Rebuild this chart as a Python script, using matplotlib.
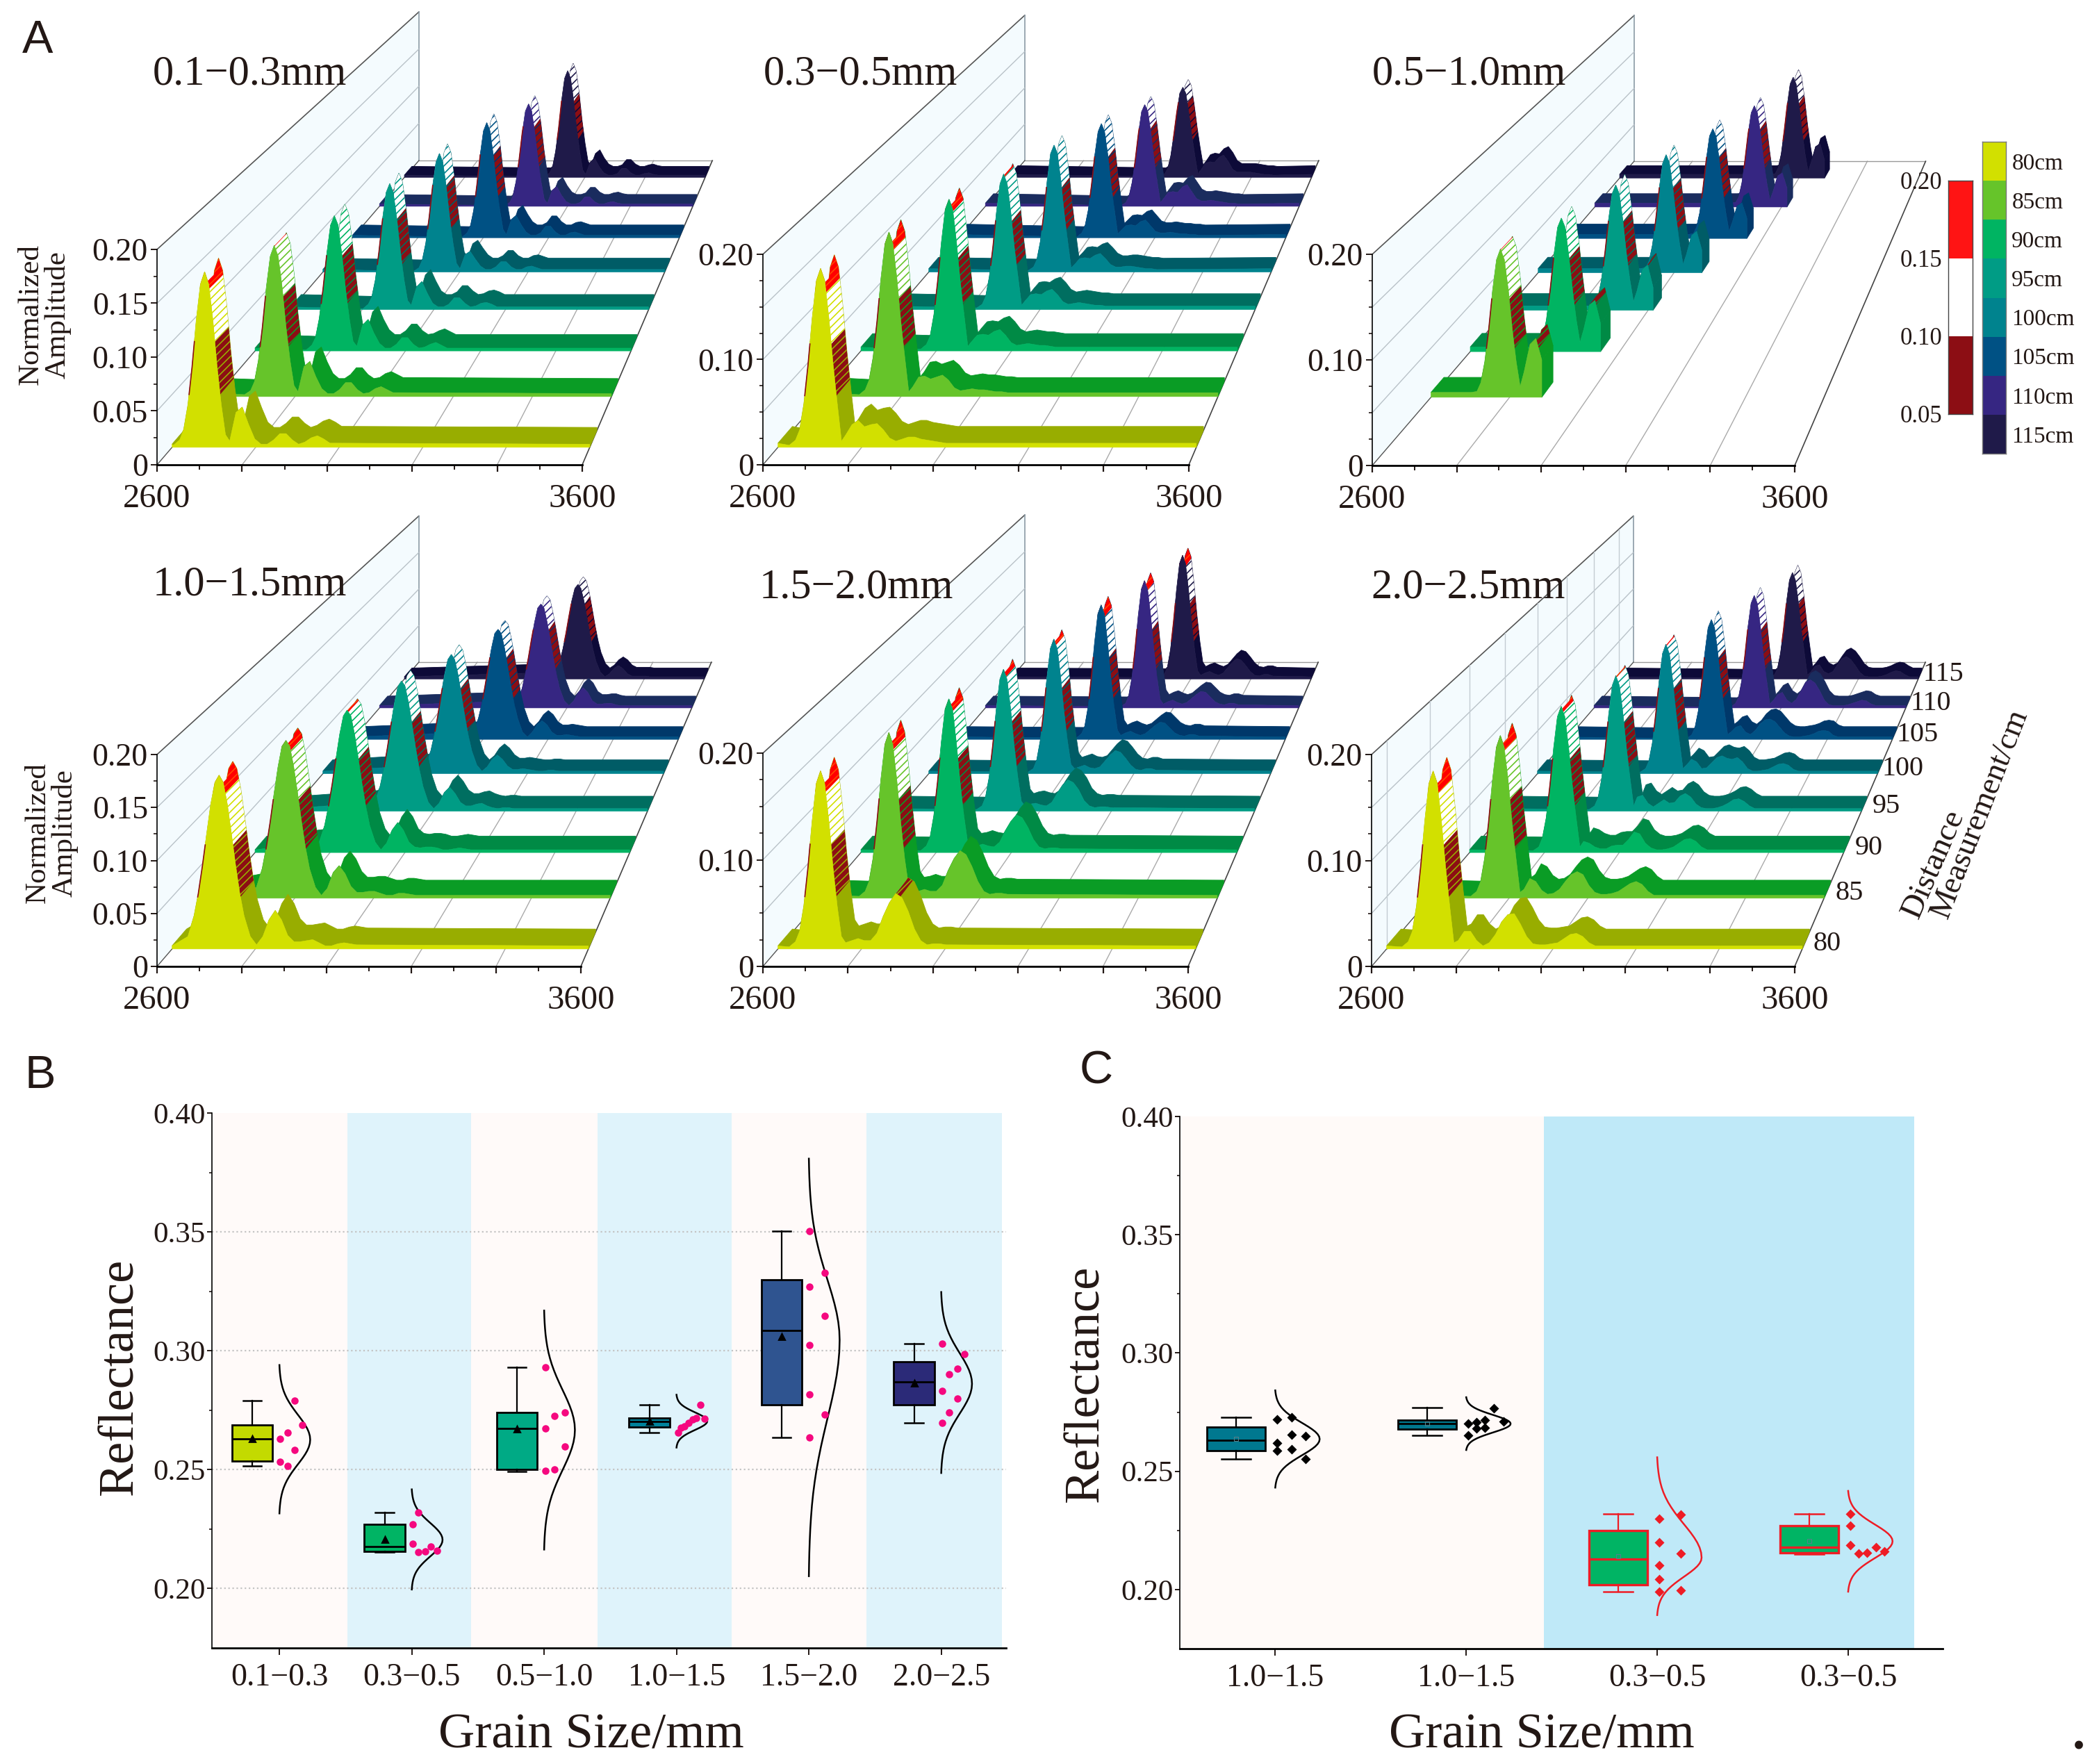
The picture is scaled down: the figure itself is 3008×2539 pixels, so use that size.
import numpy as np
import matplotlib
matplotlib.use('Agg')
import matplotlib.pyplot as plt
from matplotlib.patches import Polygon

plt.rcParams['font.family'] = 'Liberation Serif'
plt.rcParams['hatch.linewidth'] = 0.6
plt.rcParams['text.color'] = '#231815'
plt.rcParams['xtick.color'] = '#231815'
plt.rcParams['ytick.color'] = '#231815'

W, H = 3008, 2539

# ---- waterfall data: amplitudes in 1/1000, read on a grid relative to each ridge's peak ----
distances = [80, 85, 90, 95, 100, 105, 110, 115]
ridge_colors = ['#d2e000', '#66c42a', '#00b462', '#009c85', '#00838e', '#005184', '#362682', '#1f1a49']
ridge_shades = ['#98ad00', '#0a9c25', '#008a45', '#006e60', '#005c66', '#00386a', '#1a2c5e', '#0d0a38']
offset_grid = [-75, -60, -50, -40, -30, -20, -10, 0, 10, 20, 30, 40, 50, 60, 75, 90, 105, 120, 135, 150,
               165, 180, 195, 210, 225, 240, 255, 270, 285, 300, 315, 330, 345, 360, 375, 390]

peaks_01_03 = [2678, 2748, 2811, 2877, 2941, 3011, 3076, 3143]
amps_01_03 = [
    [2, 7, 17, 40, 76, 120, 154, 166, 154, 120, 76, 40, 12, 6, 33, 38, 22, 8, 3, 3, 7, 13, 13, 7, 3, 5, 9, 11, 8, 4],
    [2, 6, 15, 36, 69, 109, 140, 151, 140, 109, 69, 36, 11, 5, 30, 35, 20, 8, 3, 3, 7, 14, 14, 7, 3, 4, 8, 10, 7, 4],
    [1, 6, 14, 34, 65, 102, 132, 142, 132, 102, 65, 34, 10, 5, 27, 33, 19, 8, 3, 3, 7, 14, 14, 7, 3, 4, 7, 9, 6, 3],
    [1, 6, 14, 33, 64, 100, 129, 139, 129, 100, 64, 33, 10, 5, 25, 31, 18, 7, 3, 3, 6, 13, 13, 7, 3, 4, 7, 8, 6, 3],
    [1, 5, 14, 33, 63, 99, 127, 137, 127, 99, 63, 33, 10, 4, 20, 24, 15, 7, 3, 3, 6, 12, 12, 6, 3, 3, 6, 7, 5, 3],
    [1, 6, 14, 33, 64, 100, 129, 139, 129, 100, 64, 33, 10, 4, 22, 27, 16, 7, 3, 3, 6, 14, 14, 7, 3, 3, 6, 7, 5, 3],
    [1, 5, 13, 31, 59, 93, 120, 129, 120, 93, 59, 31, 9, 4, 20, 25, 14, 6, 3, 3, 5, 12, 12, 6, 3, 3, 5, 6, 4, 3],
    [1, 6, 14, 34, 64, 101, 130, 140, 130, 101, 64, 34, 10, 4, 20, 25, 14, 6, 3, 3, 5, 12, 12, 6, 3, 3, 5, 6, 4, 3],
]
peaks_03_05 = [2702, 2770, 2834, 2899, 2966, 3037, 3108, 3173]
amps_03_05 = [
    [2, 7, 17, 42, 80, 125, 161, 173, 161, 125, 80, 42, 6, 12, 22, 26, 20, 22, 23, 17, 9, 6, 8, 10, 10, 8, 7, 6, 5, 4],
    [2, 7, 17, 40, 77, 121, 156, 168, 156, 121, 77, 40, 5, 10, 20, 21, 18, 20, 22, 17, 9, 6, 7, 8, 7, 7, 6, 5, 5, 4],
    [2, 7, 16, 39, 75, 117, 152, 163, 152, 117, 75, 39, 5, 10, 17, 18, 17, 21, 23, 17, 9, 6, 7, 8, 7, 6, 6, 5, 4, 4],
    [2, 6, 15, 37, 70, 110, 142, 153, 142, 110, 70, 37, 5, 10, 17, 18, 17, 21, 23, 17, 9, 6, 7, 8, 7, 6, 5, 5, 4, 4],
    [2, 6, 15, 36, 69, 108, 140, 150, 140, 108, 69, 36, 5, 9, 16, 17, 16, 20, 22, 16, 9, 6, 6, 7, 7, 6, 5, 4, 4, 3],
    [1, 6, 14, 34, 65, 102, 131, 141, 131, 102, 65, 34, 5, 9, 15, 16, 15, 20, 22, 15, 8, 6, 6, 7, 6, 5, 5, 4, 4, 3],
    [1, 5, 13, 31, 60, 94, 122, 131, 122, 94, 60, 31, 5, 10, 18, 19, 18, 25, 28, 19, 10, 7, 7, 8, 7, 6, 5, 4, 4, 3],
    [1, 5, 12, 29, 56, 87, 113, 121, 113, 87, 56, 29, 5, 10, 19, 21, 20, 27, 30, 22, 11, 7, 7, 7, 7, 6, 5, 4, 4, 3],
]
# the 0.5-1.0 mm ridges have no 80 cm trace and stop just after the second lobe
peaks_05_10 = [0, 2777, 2844, 2909, 2977, 3047, 3113, 3181]
amps_05_10 = [
    [],
    [5, 6, 15, 36, 69, 109, 140, 151, 140, 109, 69, 36, 11, 26, 54, 60, 38],
    [5, 6, 14, 34, 66, 103, 133, 143, 133, 103, 66, 34, 10, 24, 50, 55, 30],
    [5, 6, 14, 34, 65, 102, 131, 141, 131, 102, 65, 34, 10, 22, 46, 51, 26],
    [5, 6, 14, 33, 64, 100, 129, 139, 129, 100, 64, 33, 10, 22, 44, 49, 27],
    [5, 6, 14, 32, 62, 97, 126, 135, 126, 97, 62, 32, 9, 20, 40, 44, 25],
    [5, 6, 13, 31, 60, 94, 121, 130, 121, 94, 60, 31, 9, 20, 40, 44, 24],
    [5, 6, 14, 32, 62, 97, 126, 135, 126, 97, 62, 32, 9, 21, 42, 46, 24],
]
peaks_10_15 = [2713, 2778, 2846, 2911, 2977, 3047, 3117, 3179]
amps_10_15 = [
    [12, 32, 53, 80, 110, 139, 160, 167, 160, 139, 110, 80, 53, 32, 12, 4, 12, 28, 37, 28, 13, 7, 7, 8, 9, 6, 3, 3, 5, 6, 5, 4],
    [11, 30, 51, 77, 106, 133, 154, 160, 154, 133, 106, 77, 51, 30, 11, 3, 10, 26, 33, 25, 12, 6, 6, 7, 7, 5, 3, 3, 5, 5, 4, 3],
    [11, 29, 49, 73, 100, 126, 146, 152, 146, 126, 100, 73, 49, 29, 11, 3, 10, 24, 32, 24, 11, 6, 5, 6, 6, 5, 3, 3, 4, 5, 4, 3],
    [10, 28, 47, 70, 96, 121, 140, 146, 140, 121, 96, 70, 47, 28, 10, 3, 9, 21, 27, 20, 10, 6, 6, 8, 9, 6, 4, 3, 4, 4, 3, 3],
    [10, 27, 45, 67, 92, 116, 134, 140, 134, 116, 92, 67, 45, 27, 10, 3, 8, 17, 22, 17, 9, 5, 5, 6, 5, 4, 3, 3, 4, 4, 3, 3],
    [9, 26, 43, 65, 89, 112, 130, 135, 130, 112, 89, 65, 43, 26, 9, 3, 9, 18, 23, 18, 9, 5, 5, 6, 5, 4, 3, 3, 3, 3, 3, 3],
    [9, 25, 43, 64, 88, 110, 128, 133, 128, 110, 88, 64, 43, 25, 9, 3, 9, 20, 26, 20, 9, 5, 5, 6, 6, 4, 3, 3, 3, 3, 3, 3],
    [9, 24, 40, 60, 83, 105, 121, 126, 121, 105, 83, 60, 40, 24, 9, 3, 7, 14, 18, 14, 7, 4, 4, 4, 4, 3, 3, 3, 3, 3, 3, 3],
]
peaks_15_20 = [2702, 2770, 2834, 2899, 2966, 3037, 3108, 3173]
amps_15_20 = [
    [2, 7, 17, 41, 78, 122, 158, 170, 158, 122, 78, 41, 12, 6, 8, 10, 8, 8, 15, 31, 44, 53, 49, 36, 19, 8, 4, 5, 5, 4],
    [2, 7, 17, 40, 77, 120, 155, 167, 155, 120, 77, 40, 12, 6, 7, 9, 7, 7, 13, 28, 40, 48, 44, 32, 17, 7, 4, 5, 5, 4],
    [2, 7, 16, 39, 75, 117, 152, 163, 152, 117, 75, 39, 11, 6, 7, 9, 7, 6, 11, 23, 33, 40, 37, 27, 14, 6, 4, 5, 5, 4],
    [2, 6, 16, 38, 73, 114, 147, 158, 147, 114, 73, 38, 11, 6, 8, 9, 7, 6, 10, 20, 29, 35, 32, 24, 12, 6, 4, 5, 5, 4],
    [2, 6, 16, 38, 72, 113, 146, 157, 146, 113, 72, 38, 11, 6, 8, 10, 7, 6, 8, 15, 22, 27, 25, 18, 10, 5, 4, 6, 6, 4],
    [2, 7, 16, 39, 75, 118, 153, 164, 153, 118, 75, 39, 11, 5, 8, 10, 7, 5, 7, 12, 17, 21, 20, 14, 8, 5, 4, 6, 6, 4],
    [2, 6, 16, 39, 75, 117, 151, 162, 151, 117, 75, 39, 11, 5, 8, 10, 7, 5, 7, 12, 17, 21, 20, 14, 8, 5, 4, 6, 6, 4],
    [2, 7, 16, 39, 75, 118, 153, 164, 153, 118, 75, 39, 11, 5, 8, 10, 7, 5, 8, 15, 22, 27, 25, 18, 10, 5, 4, 6, 6, 4],
]
peaks_20_25 = [2712, 2778, 2845, 2911, 2978, 3044, 3114, 3180]
amps_20_25 = [
    [2, 7, 17, 41, 79, 123, 159, 171, 159, 123, 79, 41, 6, 8, 17, 17, 8, 3, 6, 14, 26, 33, 34, 24, 12, 5, 4, 4, 5, 6, 10, 14, 15, 12, 6, 3],
    [2, 7, 17, 40, 76, 119, 153, 165, 153, 119, 76, 40, 6, 9, 20, 17, 8, 4, 5, 9, 17, 24, 27, 24, 13, 6, 4, 4, 5, 7, 11, 15, 17, 14, 7, 3],
    [2, 6, 16, 37, 72, 112, 145, 156, 145, 112, 72, 37, 6, 12, 10, 6, 4, 4, 7, 8, 8, 14, 22, 20, 10, 5, 3, 3, 4, 6, 10, 14, 15, 12, 6, 3],
    [2, 6, 15, 36, 70, 109, 141, 152, 141, 109, 70, 36, 6, 16, 18, 9, 5, 9, 13, 9, 10, 17, 20, 16, 8, 4, 3, 3, 4, 6, 9, 13, 14, 11, 6, 3],
    [2, 6, 15, 36, 70, 109, 141, 152, 141, 109, 70, 36, 6, 10, 17, 14, 6, 7, 13, 19, 21, 18, 17, 19, 14, 6, 3, 3, 4, 5, 8, 11, 12, 10, 5, 3],
    [1, 6, 15, 35, 68, 106, 137, 147, 137, 106, 68, 35, 6, 9, 15, 17, 9, 6, 11, 19, 24, 25, 22, 15, 8, 4, 3, 3, 4, 5, 7, 10, 11, 10, 5, 3],
    [1, 6, 14, 35, 66, 104, 134, 144, 134, 104, 66, 35, 5, 9, 17, 20, 10, 6, 11, 22, 33, 36, 32, 22, 10, 4, 3, 3, 3, 4, 6, 8, 10, 9, 5, 3],
    [1, 6, 14, 34, 65, 102, 132, 142, 132, 102, 65, 34, 5, 9, 17, 19, 10, 7, 10, 19, 27, 30, 26, 18, 9, 4, 3, 3, 3, 4, 6, 9, 11, 10, 6, 3],
]

# ---- panel B ----
b_labels = ['0.1\u22120.3', '0.3\u22120.5', '0.5\u22121.0', '1.0\u22121.5', '1.5\u22122.0', '2.0\u22122.5']
b_colors = ['#c3da00', '#00b464', '#00aa85', '#00829a', '#2f5490', '#2b2a78']
b_whislo = [0.2517, 0.2152, 0.2493, 0.2657, 0.2635, 0.2696]
b_q1 = [0.2535, 0.2155, 0.2502, 0.2680, 0.2774, 0.2772]
b_med = [0.2630, 0.2177, 0.2674, 0.2704, 0.3084, 0.2868]
b_mean = [0.2630, 0.2205, 0.2669, 0.2704, 0.3058, 0.2862]
b_q3 = [0.2689, 0.2270, 0.2741, 0.2718, 0.3298, 0.2955]
b_whishi = [0.2790, 0.2321, 0.2931, 0.2772, 0.3503, 0.3030]
b_bell_top = [0.2940, 0.2417, 0.3169, 0.2815, 0.3808, 0.3247]
b_bell_mid = [0.2626, 0.2205, 0.2667, 0.2704, 0.3045, 0.2861]
b_bell_bottom = [0.2316, 0.1996, 0.2164, 0.2593, 0.2052, 0.2486]
b_dot_dx = [
    [0.005, 0.06, 0.115, 0.17, 0.115, 0.005, 0.06],
    [0.005, 0.005, 0.05, 0.05, 0.10, 0.145, 0.19],
    [0.01, 0.01, 0.01, 0.08, 0.08, 0.155, 0.155],
    [0.01, 0.035, 0.06, 0.09, 0.12, 0.15, 0.18, 0.21],
    [0.005, 0.005, 0.005, 0.005, 0.005, 0.12, 0.12, 0.12],
    [0.005, 0.005, 0.005, 0.06, 0.06, 0.12, 0.12, 0.175],
]
b_dot_y = [
    [0.2630, 0.2656, 0.2789, 0.2689, 0.2583, 0.2534, 0.2517],
    [0.2270, 0.2188, 0.2321, 0.2153, 0.2157, 0.2177, 0.2160],
    [0.2931, 0.2674, 0.2495, 0.2726, 0.2502, 0.2741, 0.2596],
    [0.2657, 0.2676, 0.2682, 0.2698, 0.2711, 0.2717, 0.2772, 0.2715],
    [0.3503, 0.3269, 0.3023, 0.2816, 0.2635, 0.3328, 0.3147, 0.2731],
    [0.3030, 0.2831, 0.2698, 0.2901, 0.2742, 0.2925, 0.2800, 0.2986],
]
b_band_edges = [0.49, 1.511, 2.449, 3.405, 4.418, 5.435, 6.457]

# ---- panel C ----
c_labels = ['1.0\u22121.5', '1.0\u22121.5', '0.3\u22120.5', '0.3\u22120.5']
c_colors = ['#00788f', '#00788f', '#00b464', '#00b464']
c_edges = ['black', 'black', '#ee1c25', '#ee1c25']
c_whislo = [0.2553, 0.2653, 0.1991, 0.2150]
c_q1 = [0.2588, 0.2677, 0.2019, 0.2156]
c_med = [0.2631, 0.2701, 0.2130, 0.2178]
c_mean = [0.2636, 0.2701, 0.2141, 0.2204]
c_q3 = [0.2688, 0.2716, 0.2250, 0.2269]
c_whishi = [0.2729, 0.2770, 0.2319, 0.2321]
c_bell_top = [0.2842, 0.2813, 0.2559, 0.2417]
c_bell_mid = [0.2636, 0.2701, 0.2135, 0.2204]
c_bell_bottom = [0.2431, 0.2590, 0.1892, 0.1991]
c_dot_dx = [
    [0.01, 0.01, 0.01, 0.085, 0.085, 0.085, 0.16, 0.16],
    [0.01, 0.01, 0.055, 0.055, 0.097, 0.097, 0.146, 0.195],
    [0.01, 0.01, 0.01, 0.01, 0.01, 0.123, 0.123, 0.123],
    [0.01, 0.01, 0.01, 0.055, 0.10, 0.146, 0.19],
]
c_dot_y = [
    [0.2718, 0.2618, 0.2588, 0.2727, 0.2655, 0.2594, 0.2649, 0.2553],
    [0.2701, 0.2653, 0.2707, 0.2681, 0.2716, 0.2685, 0.2766, 0.2711],
    [0.2299, 0.2200, 0.2102, 0.2043, 0.1991, 0.2317, 0.2152, 0.1998],
    [0.2319, 0.2269, 0.2187, 0.2152, 0.2156, 0.2178, 0.2160],
]
c_band_edges = [0.5, 2.406, 4.347]

# outline of the fitted bell, read once from the picture: height offset and relative width
bell_u = [-1, -0.95, -0.9, -0.85, -0.8, -0.75, -0.7, -0.65, -0.6, -0.55, -0.5, -0.45, -0.4, -0.35, -0.3, -0.25,
          -0.2, -0.15, -0.1, -0.05, 0, 0.05, 0.1, 0.15, 0.2, 0.25, 0.3, 0.35, 0.4, 0.45, 0.5, 0.55, 0.6, 0.65,
          0.7, 0.75, 0.8, 0.85, 0.9, 0.95, 1]
bell_w = [0.011, 0.017, 0.026, 0.039, 0.056, 0.08, 0.11, 0.149, 0.198, 0.256, 0.325, 0.402, 0.487, 0.576, 0.667,
          0.755, 0.835, 0.904, 0.956, 0.989, 1, 0.989, 0.956, 0.904, 0.835, 0.755, 0.667, 0.576, 0.487, 0.402,
          0.325, 0.256, 0.198, 0.149, 0.11, 0.08, 0.056, 0.039, 0.026, 0.017, 0.011]

# ---- perspective of the waterfall floor (same in all six panels) ----
Z_FRONT, Z_BACK = 78.4, 118.1
PERSP = 0.449
VANISH_DX, VANISH_DY = 1216, 1413
RIDGE_DEPTH = 1.6
band_levels = [0.05, 0.10, 0.15]

fig = plt.figure(figsize=(W / 200, H / 200), dpi=200)
fig.patch.set_facecolor('white')


def axes_px(left, top, right, bottom):
    return fig.add_axes([left / W, 1 - bottom / H, (right - left) / W, (bottom - top) / H])


def text_px(x, y, s, **kw):
    kw.setdefault('ha', 'center')
    kw.setdefault('va', 'center')
    fig.text(x / W, 1 - y / H, s, **kw)


def project(x, a, z, vanish):
    s = 1 / (1 + PERSP * (np.asarray(z, dtype=float) - Z_FRONT) / (Z_BACK - Z_FRONT))
    return vanish[0] + (np.asarray(x, dtype=float) - vanish[0]) * s, vanish[1] + (np.asarray(a, dtype=float) - vanish[1]) * s


def split_at_levels(xs, amps):
    # add a vertex wherever the trace crosses a colour level so the bands end cleanly
    out_x, out_a = [xs[0]], [amps[0]]
    for i in range(len(xs) - 1):
        a0, a1 = amps[i], amps[i + 1]
        hits = [lv for lv in band_levels if (a0 - lv) * (a1 - lv) < 0]
        hits.sort(reverse=a1 < a0)
        for lv in hits:
            out_x.append(xs[i] + (lv - a0) / (a1 - a0) * (xs[i + 1] - xs[i]))
            out_a.append(lv)
        out_x.append(xs[i + 1])
        out_a.append(a1)
    return np.array(out_x), np.array(out_a)


def strip(fx, fy, bx, by):
    return np.column_stack([np.concatenate([fx, bx[::-1]]), np.concatenate([fy, by[::-1]])])


def draw_ridge(ax, xs, amps, z, color, shade, vanish, zo):
    xs, amps = split_at_levels(xs, amps)
    fx, fy = project(xs, amps, z, vanish)
    bx, by = project(xs, amps, z + RIDGE_DEPTH, vanish)
    gx, gy = project(xs, amps * 0, z, vanish)
    ax.add_patch(Polygon(strip(fx, fy, bx, by), fc=shade, ec=shade, lw=0.3, clip_on=False, zorder=zo))
    # end face of the ribbon
    gbx, gby = project(xs, amps * 0, z + RIDGE_DEPTH, vanish)
    cap = [[fx[-1], fy[-1]], [bx[-1], by[-1]], [gbx[-1], gby[-1]], [gx[-1], gy[-1]]]
    ax.add_patch(Polygon(cap, fc=shade, ec=shade, lw=0.3, clip_on=False, zorder=zo))
    # height colour bands on the ribbon top
    styles = [(0.05, 0.10, '#8c0e14', shade), (0.10, 0.15, 'white', color), (0.15, 1.0, '#ff0000', '#ff4a00')]
    mid = (amps[:-1] + amps[1:]) / 2
    edge_runs = []
    for lo, hi, face, hatch_col in styles:
        i = 0
        while i < len(mid):
            if lo <= mid[i] < hi:
                j = i
                while j + 1 < len(mid) and lo <= mid[j + 1] < hi:
                    j += 1
                sel = slice(i, j + 2)
                ax.add_patch(Polygon(strip(fx[sel], fy[sel], bx[sel], by[sel]), fc=face, ec=hatch_col, lw=0,
                                     hatch='//////', clip_on=False, zorder=zo))
                if face != 'white' and amps[j + 1] > amps[i]:
                    edge_runs.append((fx[sel], fy[sel], face))
                i = j + 1
            else:
                i += 1
    ax.add_patch(Polygon(strip(fx, fy, gx, gy), fc=color, ec=color, lw=0.2, clip_on=False, zorder=zo))
    for ex, ey, col in edge_runs:
        ax.plot(ex, ey, color=col, lw=0.6, clip_on=False, zorder=zo)


def draw_waterfall(box, title, title_xy, peaks, amps_rows, yticks, floor, open_right=True, wall_ticks=False):
    left, top, right, bottom = box
    ax = axes_px(left, top, right, bottom)
    ax.patch.set_visible(False)
    ax.set_xlim(2600, 3600)
    ax.set_ylim(0, 0.2)
    vanish = (2600 + VANISH_DX / (right - left) * 1000, VANISH_DY / (bottom - top) * 0.2)

    # wall
    wx, wy = project([2600, 2600, 2600, 2600], [0, 0.2, 0.2, 0], [Z_FRONT, Z_FRONT, Z_BACK, Z_BACK], vanish)
    ax.add_patch(Polygon(np.column_stack([wx, wy]), fc='#f4fbfe', ec='none', clip_on=False, zorder=0.5))
    ax.plot(wx[1:3], wy[1:3], color='#555555', lw=0.6, clip_on=False, zorder=0.6)
    ax.plot(wx[2:], wy[2:], color='#8a9aa5', lw=0.6, clip_on=False, zorder=0.6)
    for level in [0.05, 0.10, 0.15]:
        lx, ly = project([2600, 2600], [level, level], [Z_FRONT, Z_BACK], vanish)
        ax.plot(lx, ly, color='#b9c2c8', lw=0.5, clip_on=False, zorder=0.6)
    if wall_ticks:
        for z in distances:
            lx, ly = project([2600, 2600], [0, 0.2], [z, z], vanish)
            ax.plot(lx, ly, color='#c3ccd2', lw=0.5, clip_on=False, zorder=0.6)

    # floor
    for xv in [2800, 3000, 3200, 3400]:
        lx, ly = project([xv, xv], [0, 0], [Z_FRONT, Z_BACK], vanish)
        ax.plot(lx, ly, color='#aaaaaa', lw=0.5, clip_on=False, zorder=0.6)
    lx, ly = project([2600, 3600], [0, 0], [Z_BACK, Z_BACK], vanish)
    ax.plot(lx, ly, color='#999999', lw=0.5, clip_on=False, zorder=0.6)
    lx, ly = project([2600, 2600], [0, 0], [Z_FRONT, Z_BACK], vanish)
    ax.plot(lx, ly, color='#555555', lw=0.5, clip_on=False, zorder=0.6)
    lx, ly = project([3600, 3600], [0, 0], [Z_FRONT, Z_BACK], vanish)
    ax.plot(lx, ly, color='#444444', lw=0.6, clip_on=False, zorder=0.6)

    # ridges, back to front
    for i in range(len(distances) - 1, -1, -1):
        row = amps_rows[i]
        if len(row) == 0:
            continue
        xs = [2600] + [peaks[i] + d for d in offset_grid[:len(row)]]
        am = [floor] + [v / 1000 for v in row]
        if open_right:
            xs.append(3600)
            am.append(floor)
        draw_ridge(ax, np.array(xs, dtype=float), np.array(am), distances[i],
                   ridge_colors[i], ridge_shades[i], vanish, 3 + (len(distances) - i) * 0.1)

    for side in ['top', 'right']:
        ax.spines[side].set_visible(False)
    ax.spines['bottom'].set_linewidth(1.0)
    ax.spines['left'].set_linewidth(0.6)
    ax.set_xticks([2600, 2800, 3000, 3200, 3400, 3600])
    ax.set_xticklabels(['2600', '', '', '', '', '3600'], fontsize=17.5)
    ax.set_xticks([2700, 2900, 3100, 3300, 3500], minor=True)
    ax.set_yticks(yticks)
    ax.set_yticklabels(['0' if v == 0 else '%.2f' % v for v in yticks], fontsize=16.5)
    ax.set_yticks(np.arange(0.025, 0.2, 0.025), minor=True)
    ax.tick_params(axis='x', which='major', length=3.6, width=0.8, pad=6)
    ax.tick_params(axis='x', which='minor', length=2.4, width=0.7)
    ax.tick_params(axis='y', which='major', length=3.2, width=0.7, pad=1.5)
    ax.tick_params(axis='y', which='minor', length=1.8, width=0.6)
    text_px(title_xy[0], title_xy[1], title, ha='left', fontsize=21.8)
    return ax, vanish


ticks_005 = [0, 0.05, 0.10, 0.15, 0.20]
ticks_010 = [0, 0.10, 0.20]
draw_waterfall((226, 359, 838, 669), '0.1\u22120.3mm', (220, 107), peaks_01_03, amps_01_03, ticks_005, 0.003)
draw_waterfall((1098, 366, 1711, 669), '0.3\u22120.5mm', (1099, 107), peaks_03_05, amps_03_05, ticks_010, 0.004)
draw_waterfall((1975, 366, 2583, 670), '0.5\u22121.0mm', (1975, 107), peaks_05_10, amps_05_10, ticks_010, 0.005,
               open_right=False)
draw_waterfall((226, 1086, 836, 1391), '1.0\u22121.5mm', (220, 842), peaks_10_15, amps_10_15, ticks_005, 0.003)
draw_waterfall((1098, 1084, 1710, 1391), '1.5\u22122.0mm', (1093, 846), peaks_15_20, amps_15_20, ticks_010, 0.003)
ax_last, vanish_last = draw_waterfall((1974, 1086, 2583, 1391), '2.0\u22122.5mm', (1973, 846), peaks_20_25, amps_20_25,
                                      ticks_010, 0.003, wall_ticks=True)

# depth labels on the last panel
for dist in distances:
    px, py = project(3600, 0, dist, vanish_last)
    ax_last.annotate(str(dist), xy=(px, py), xytext=(13, 2.5), textcoords='offset points', fontsize=14.5,
                     ha='center', va='center', annotation_clip=False)
fig.text(2750 / W, 1 - 1320 / H, 'Distance', fontsize=17, rotation=66.5, rotation_mode='anchor', ha='left', va='center')
fig.text(2792 / W, 1 - 1320 / H, 'Measurement/cm', fontsize=16.5, rotation=68.8, rotation_mode='anchor', ha='left', va='center')

text_px(64, 453, 'Normalized\nAmplitude', fontsize=15.5, rotation=90, linespacing=1.0)
text_px(74, 1199, 'Normalized\nAmplitude', fontsize=15.5, rotation=90, linespacing=1.0)

# amplitude colour key
amp_edges = [0.05, 0.10, 0.15, 0.20]
amp_colors = ['#8c0e14', '#ffffff', '#ff1414']
ax_amp = axes_px(2804, 260, 2839, 596)
ax_amp.bar([0] * 3, np.diff(amp_edges), bottom=amp_edges[:-1], width=1, color=amp_colors, linewidth=0)
ax_amp.set_xlim(-0.5, 0.5)
ax_amp.set_ylim(0.05, 0.20)
ax_amp.set_xticks([])
ax_amp.set_yticks(amp_edges)
ax_amp.set_yticklabels(['%.2f' % v for v in amp_edges], fontsize=12.5)
ax_amp.tick_params(length=0, pad=3)
for sp in ax_amp.spines.values():
    sp.set_linewidth(0.5)
    sp.set_color('#444444')

# distance colour key
ax_dist = axes_px(2853, 204, 2887, 653)
ax_dist.bar([0] * 8, [1] * 8, bottom=list(range(8)), width=1, color=ridge_colors, linewidth=0)
ax_dist.set_xlim(-0.5, 0.5)
ax_dist.set_ylim(8, 0)
ax_dist.set_xticks([])
ax_dist.set_yticks([i + 0.5 for i in range(8)])
ax_dist.set_yticklabels(['%dcm' % d for d in distances], fontsize=12)
ax_dist.yaxis.tick_right()
ax_dist.tick_params(length=0, pad=3)
for sp in ax_dist.spines.values():
    sp.set_linewidth(0.5)
    sp.set_color('#777777')


def draw_box_panel(box, labels, colors, edges, stats_lists, bell, dot_dx, dot_y, band_edges, band_colors, xlim,
                   marker, dot_colors, mean_style, cap, grid=False):
    ax = axes_px(*box)
    ax.set_xlim(*xlim)
    ax.set_ylim(0.175, 0.40)
    for i in range(len(band_edges) - 1):
        ax.axvspan(band_edges[i], band_edges[i + 1], color=band_colors[i], lw=0, zorder=0)
    if grid:
        ax.hlines([0.20, 0.25, 0.30, 0.35], xlim[0], xlim[1], colors='#c4c4c4', linestyles=':', lw=0.8, zorder=0.5)
    wlo, q1, med, mean, q3, whi = stats_lists
    positions = np.arange(1, len(labels) + 1)
    for i, pos in enumerate(positions):
        stats = [dict(whislo=wlo[i], q1=q1[i], med=med[i], mean=mean[i], q3=q3[i], whishi=whi[i], fliers=[])]
        ec = edges[i]
        lw_box = 1.2 if ec != 'black' else 1.0
        ax.bxp(stats, positions=[pos - 0.205], widths=0.306, patch_artist=True, showmeans=True,
               showfliers=False, manage_ticks=False, capwidths=cap,
               boxprops=dict(facecolor=colors[i], edgecolor=ec, linewidth=lw_box),
               medianprops=dict(color=ec, linewidth=lw_box),
               whiskerprops=dict(color=ec, linewidth=0.8),
               capprops=dict(color=ec, linewidth=0.9),
               meanprops=mean_style)
        bell_x = pos + 0.235 * np.array(bell_w)
        u = np.array(bell_u)
        bell_y = np.where(u > 0, bell[1][i] + (bell[0][i] - bell[1][i]) * u, bell[1][i] + (bell[1][i] - bell[2][i]) * u)
        ax.plot(bell_x - 0.235 * bell_w[0], bell_y, color=dot_colors[i], lw=0.9, zorder=3)
        if marker == 'o':
            ax.plot(pos + np.array(dot_dx[i]), dot_y[i], ls='none', marker='o', ms=3.8, mfc=dot_colors_b, mec='none', zorder=4)
        else:
            ax.plot(pos + np.array(dot_dx[i]), dot_y[i], ls='none', marker='D', ms=3.7, mfc=dot_colors[i], mec='none', zorder=4)
    for side in ['top', 'right']:
        ax.spines[side].set_visible(False)
    ax.spines['bottom'].set_linewidth(1.0)
    ax.spines['bottom'].set_zorder(6)
    ax.spines['left'].set_linewidth(0.6)
    ax.set_xticks(positions)
    ax.set_xticklabels(labels, fontsize=16.5)
    ax.set_yticks([0.20, 0.25, 0.30, 0.35, 0.40])
    ax.set_yticklabels(['0.20', '0.25', '0.30', '0.35', '0.40'], fontsize=15.5)
    ax.set_yticks([0.225, 0.275, 0.325, 0.375], minor=True)
    ax.tick_params(axis='x', which='major', length=3.6, width=0.7, pad=4)
    ax.tick_params(axis='y', which='major', length=2.6, width=0.7, pad=0.8)
    ax.tick_params(axis='y', which='minor', length=1.6, width=0.6)
    return ax


dot_colors_b = '#f5087f'
mean_b = dict(marker='^', markerfacecolor='black', markeredgecolor='black', markersize=2.6)
mean_c = dict(marker='s', markerfacecolor='none', markeredgecolor='#55808a', markersize=2.4, markeredgewidth=0.4)

draw_box_panel((305, 1602, 1448, 2372), b_labels, b_colors, ['black'] * 6,
               (b_whislo, b_q1, b_med, b_mean, b_q3, b_whishi), (b_bell_top, b_bell_mid, b_bell_bottom),
               b_dot_dx, b_dot_y, b_band_edges, ['#fffaf9', '#dff3fb', '#fffaf9', '#dff3fb', '#fffaf9', '#dff3fb'],
               (0.49, 6.49), 'o', ['black'] * 6, mean_b, 0.14, grid=True)
draw_box_panel((1698, 1607, 2796, 2373), c_labels, c_colors, c_edges,
               (c_whislo, c_q1, c_med, c_mean, c_q3, c_whishi), (c_bell_top, c_bell_mid, c_bell_bottom),
               c_dot_dx, c_dot_y, c_band_edges, ['#fffaf8', '#bfe9f8'],
               (0.5, 4.495), 'D', c_edges, mean_c, 0.153)

text_px(173, 1981, 'Reflectance', fontsize=26, rotation=90)
text_px(1563, 1991, 'Reflectance', fontsize=26, rotation=90)
text_px(851, 2498, 'Grain Size/mm', fontsize=26)
text_px(2219, 2498, 'Grain Size/mm', fontsize=26)

text_px(54, 59, 'A', family='Liberation Sans', fontsize=24)
text_px(58, 1549, 'B', family='Liberation Sans', fontsize=24)
text_px(1578, 1543, 'C', family='Liberation Sans', fontsize=24)
text_px(2992, 2500, '.', fontsize=26, fontweight='bold')

fig.savefig('out.png', dpi=200)
